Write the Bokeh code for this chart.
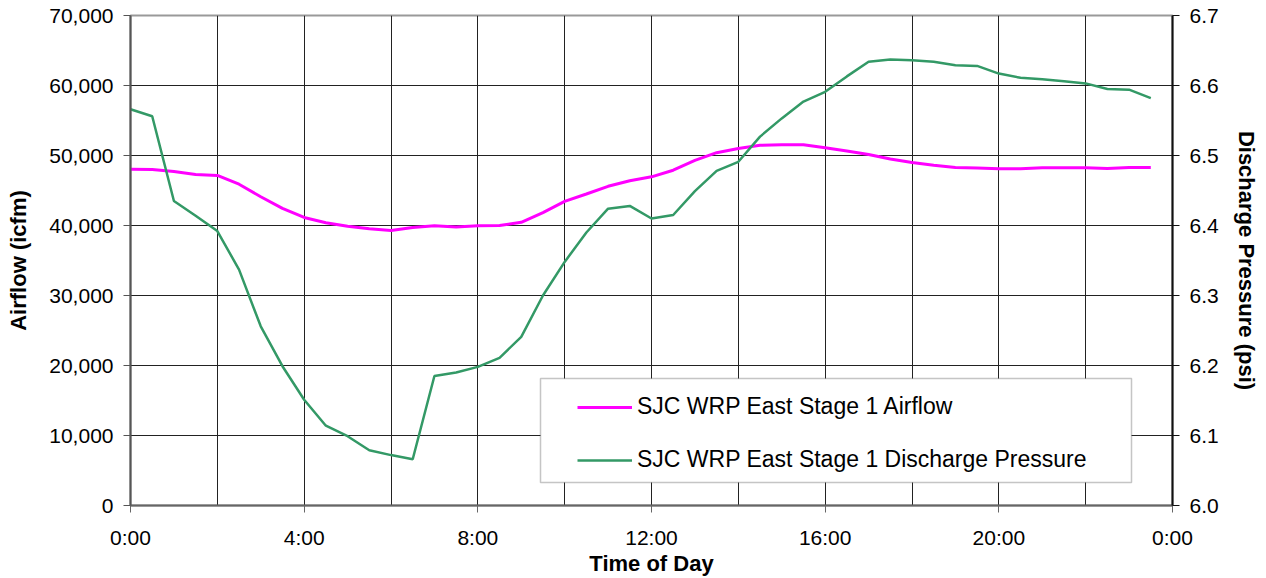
from bokeh.plotting import figure
from bokeh.models import (Range1d, LinearAxis, FixedTicker, NumeralTickFormatter,
                          Legend, LegendItem, BoxAnnotation)
from bokeh.embed import file_html
from bokeh.resources import INLINE

# ---- data -------------------------------------------------------------
hours = [0.0, 0.5, 1.0, 1.5, 2.0, 2.5, 3.0, 3.5, 4.0, 4.5, 5.0, 5.5,
         6.0, 6.5, 7.0, 7.5, 8.0, 8.5, 9.0, 9.5, 10.0, 10.5, 11.0, 11.5,
         12.0, 12.5, 13.0, 13.5, 14.0, 14.5, 15.0, 15.5, 16.0, 16.5, 17.0, 17.5,
         18.0, 18.5, 19.0, 19.5, 20.0, 20.5, 21.0, 21.5, 22.0, 22.5, 23.0, 23.5]

airflow = [48050, 48000, 47700, 47300, 47150, 45900, 44100, 42450, 41150, 40400,
           39900, 39550, 39300, 39700, 39950, 39800, 39950, 40000, 40450, 41850,
           43450, 44500, 45600, 46400, 46950, 47900, 49300, 50400, 51000, 51450,
           51550, 51550, 51100, 50650, 50150, 49500, 49000, 48600, 48300, 48200,
           48100, 48100, 48250, 48250, 48250, 48150, 48300, 48300]

pressure = [6.566, 6.556, 6.435, 6.414, 6.392, 6.337, 6.256, 6.199, 6.151, 6.114,
            6.099, 6.079, 6.072, 6.066, 6.185, 6.190, 6.198, 6.211, 6.241, 6.300,
            6.348, 6.390, 6.424, 6.428, 6.410, 6.415, 6.449, 6.478, 6.491, 6.527,
            6.553, 6.577, 6.591, 6.613, 6.634, 6.637, 6.636, 6.634, 6.629, 6.628,
            6.617, 6.611, 6.609, 6.606, 6.603, 6.595, 6.594, 6.582]

x_tick_values = [0, 4, 8, 12, 16, 20, 24]
x_tick_labels = ["0:00", "4:00", "8:00", "12:00", "16:00", "20:00", "0:00"]
x_grid_values = [0, 2, 4, 6, 8, 10, 12, 14, 16, 18, 20, 22, 24]
airflow_ticks = [0, 10000, 20000, 30000, 40000, 50000, 60000, 70000]
pressure_ticks = [6.0, 6.1, 6.2, 6.3, 6.4, 6.5, 6.6, 6.7]

series_labels = ["SJC WRP East Stage 1 Airflow",
                 "SJC WRP East Stage 1 Discharge Pressure"]

# ---- figure -----------------------------------------------------------
FONT = "Liberation Sans"

p = figure(width=1266, height=578,
           x_range=Range1d(0, 24), y_range=Range1d(0, 70000),
           output_backend="svg", toolbar_location=None,
           min_border_left=130, min_border_right=94,
           min_border_top=15, min_border_bottom=72)
p.background_fill_color = "white"
p.border_fill_color = "white"
p.outline_line_color = "#999999"
p.outline_line_width = 2

p.extra_y_ranges = {"p": Range1d(6.0, 6.7)}

# grids
p.xgrid.ticker = FixedTicker(ticks=x_grid_values)
p.ygrid.ticker = FixedTicker(ticks=airflow_ticks)
for g in (p.xgrid[0], p.ygrid[0]):
    g.grid_line_color = "#222222"
    g.grid_line_width = 1

# x axis
xa = p.xaxis[0]
xa.ticker = FixedTicker(ticks=x_tick_values)
xa.major_label_overrides = {v: l for v, l in zip(x_tick_values, x_tick_labels)}
xa.axis_label = "Time of Day"

# left axis
ya = p.yaxis[0]
ya.ticker = FixedTicker(ticks=airflow_ticks)
ya.formatter = NumeralTickFormatter(format="0,0")
ya.axis_label = "Airflow (icfm)"

# right axis
ra = LinearAxis(y_range_name="p", ticker=FixedTicker(ticks=pressure_ticks),
                formatter=NumeralTickFormatter(format="0.0"),
                axis_label="Discharge Pressure (psi)")
p.add_layout(ra, "right")

for ax, col in ((xa, "#666666"), (ya, "#555555"), (ra, "#111111")):
    ax.axis_line_color = col
    ax.axis_line_width = 2
    ax.major_tick_line_color = col
    ax.major_tick_in = 0
    ax.major_tick_out = 7
    ax.minor_tick_line_color = None
    ax.major_label_text_font = FONT
    ax.major_label_text_font_size = "21px"
    ax.major_label_text_color = "black"
    ax.major_label_standoff = 10
    ax.axis_label_text_font = FONT
    ax.axis_label_text_font_size = "22px"
    ax.axis_label_text_font_style = "bold"
    ax.axis_label_text_color = "black"

xa.major_label_standoff = 13
xa.axis_label_standoff = -1
ya.axis_label_standoff = 15
ra.axis_label_standoff = 12

# ---- series -----------------------------------------------------------
r1 = p.line(hours, airflow, line_color="#FF00FF", line_width=3)
r2 = p.line(hours, pressure, y_range_name="p", line_color="#339966", line_width=2.5)

# legend frame
box = BoxAnnotation(left=410, right=1001, bottom=23, top=127,
                    left_units="screen", right_units="screen",
                    bottom_units="screen", top_units="screen",
                    fill_color="white", fill_alpha=1.0,
                    line_color="#404040", line_width=1.5)
p.add_layout(box)

legend = Legend(items=[LegendItem(label=series_labels[0], renderers=[r1]),
                       LegendItem(label=series_labels[1], renderers=[r2])],
                location=(432, 17), orientation="vertical",
                padding=15, spacing=26, glyph_width=55, glyph_height=26,
                label_height=26, label_standoff=5,
                label_text_font=FONT, label_text_font_size="23px",
                label_text_color="black",
                border_line_alpha=0, background_fill_alpha=0)
p.add_layout(legend)

open("out.html", "w").write(file_html(p, INLINE))
